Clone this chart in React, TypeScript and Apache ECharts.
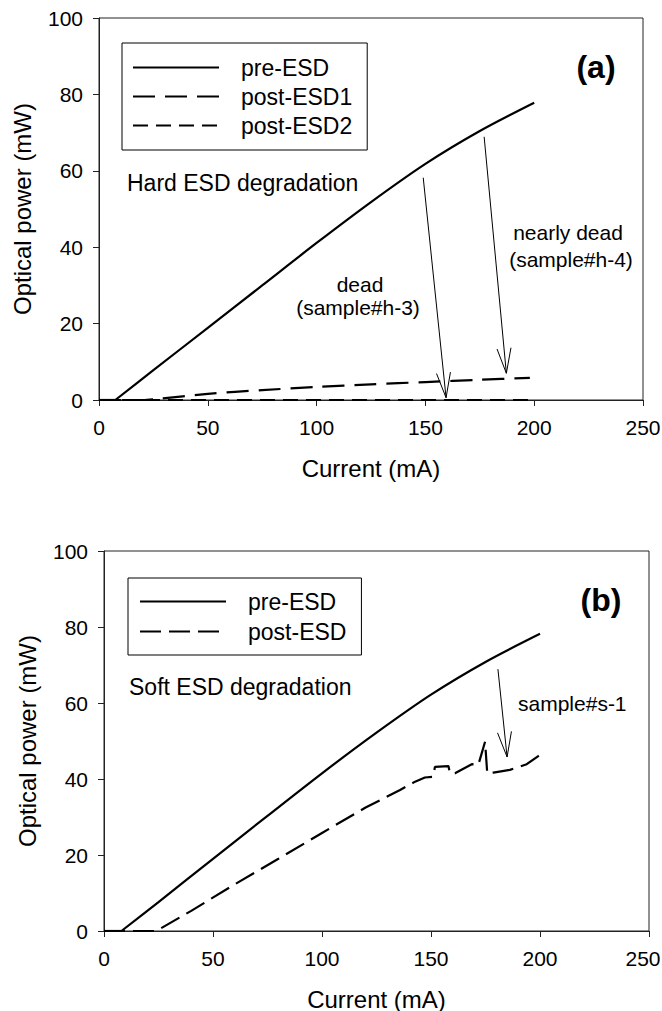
import React, { useEffect, useRef } from "react";
import * as echarts from "echarts";

const FONT = '"Liberation Sans", Arial, Helvetica, sans-serif';

// ---- data (Current in mA, Optical power in mW) ----
const LEGEND_A = ["pre-ESD", "post-ESD1", "post-ESD2"];
const LEGEND_B = ["pre-ESD", "post-ESD"];

// pre-ESD below threshold (flat) and above threshold (lasing)
const PRE_ESD_A_BELOW: [number, number][] = [[0, 0], [7.5, 0]];
const PRE_ESD_A: [number, number][] = [
  [7.5, 0], [25, 7.8], [50, 18.9], [75, 30], [100, 41.1],
  [125, 51.8], [150, 61.8], [175, 70.4], [200, 77.8],
];
const POST_ESD1_A: [number, number][] = [
  [0, 0], [20, 0], [27, 0.3], [50, 1.6], [75, 2.6], [100, 3.4],
  [125, 4.1], [150, 4.7], [175, 5.3], [198, 5.8],
];
const POST_ESD2_A: [number, number][] = [
  [0, 0], [200, 0],
];

const PRE_ESD_B_BELOW: [number, number][] = [[0, 0], [8, 0]];
const PRE_ESD_B: [number, number][] = [
  [8, 0], [25, 7.6], [50, 19], [75, 30.3], [100, 41.5],
  [125, 52.2], [150, 62.2], [175, 70.8], [200, 78.2],
];
const POST_ESD_B: [number, number][] = [
  [0, 0], [24, 0], [40, 5.3], [60, 12.3], [80, 19], [100, 25.8], [120, 32.5],
  [135.8, 37.1], [142.7, 39.3], [147.2, 40.4], [151, 40.6], [151.8, 43.2],
  [158, 43.4], [158.7, 41.5], [161, 41.5], [168.7, 43.9], [171.7, 43.7],
  [174.8, 49.8], [175.8, 41.5], [178.6, 41.7], [186.2, 42.4], [193.9, 43.9],
  [199.2, 46.0], [200, 46.3],
];

// annotation arrows: [fromX, fromY, toX, toY] in data units
const ARROWS_A: number[][] = [
  [149, 58.2, 159.5, 0.6],
  [177, 68.9, 187.2, 7.0],
];
const ARROWS_B: number[][] = [
  [180.7, 68.9, 184.9, 45.8],
];

const X_MIN = 0, X_MAX = 250, X_STEP = 50;
const Y_MIN = 0, Y_MAX = 100, Y_STEP = 20;

const renderArrow = (params: any, api: any) => {
  const p0 = api.coord([api.value(0), api.value(1)]);
  const p1 = api.coord([api.value(2), api.value(3)]);
  const dx = p1[0] - p0[0];
  const dy = p1[1] - p0[1];
  const len = Math.hypot(dx, dy) || 1;
  const ux = dx / len, uy = dy / len;
  const hl = 25, hw = 7;
  const bx = p1[0] - ux * hl, by = p1[1] - uy * hl;
  const left = [bx - uy * hw, by + ux * hw];
  const right = [bx + uy * hw, by - ux * hw];
  return {
    type: "group",
    children: [
      { type: "line", shape: { x1: p0[0], y1: p0[1], x2: p1[0], y2: p1[1] }, style: { stroke: "#000", lineWidth: 1 } },
      { type: "polyline", shape: { points: [left, p1, right] }, style: { stroke: "#000", fill: "none", lineWidth: 1 } },
    ],
  };
};

const axisX = (i: number, shiftMax: boolean) => ({
  type: "value",
  gridIndex: i,
  min: X_MIN, max: X_MAX, interval: X_STEP,
  name: "Current (mA)",
  nameLocation: "middle",
  nameGap: 56,
  nameTextStyle: { fontSize: 24, color: "#000", fontFamily: FONT },
  axisLine: { show: true, onZero: false, lineStyle: { color: "#222", width: 1 } },
  axisTick: { show: true, inside: false, length: 6, lineStyle: { color: "#222" } },
  axisLabel: {
    fontSize: 21, color: "#000", margin: 17, fontFamily: FONT, showMaxLabel: true,
    formatter: (v: number) => (shiftMax && v === X_MAX ? `{m|${v}}` : `${v}`),
    rich: { m: { fontSize: 21, color: "#000", fontFamily: FONT, padding: [0, 12, 0, 0] } },
  },
  splitLine: { show: false },
});

const axisY = (i: number) => ({
  type: "value",
  gridIndex: i,
  min: Y_MIN, max: Y_MAX, interval: Y_STEP,
  name: "Optical power (mW)",
  nameLocation: "middle",
  nameGap: 65,
  nameTextStyle: { fontSize: 24, color: "#000", fontFamily: FONT },
  axisLine: { show: true, onZero: false, lineStyle: { color: "#222", width: 1 } },
  axisTick: { show: true, inside: false, length: 6, lineStyle: { color: "#222" } },
  axisLabel: { fontSize: 21, color: "#000", margin: 16, fontFamily: FONT },
  splitLine: { show: false },
});

const legendCfg = (data: string[], left: number, top: number, gap: number, pad: number[]) => ({
  orient: "vertical",
  left, top,
  data,
  itemWidth: 86,
  itemHeight: 23,
  itemGap: gap,
  padding: pad,
  borderColor: "#000",
  borderWidth: 1,
  backgroundColor: "#fff",
  selectedMode: false,
  itemStyle: { opacity: 0 },
  textStyle: { fontSize: 23, lineHeight: 23, color: "#000", fontFamily: FONT, padding: [0, 0, 0, 17] },
});

const text = (t: string, x: number, y: number, size: number, align: string, bold = false) => ({
  type: "text",
  x, y,
  silent: true,
  style: {
    text: t,
    fill: "#000",
    fontSize: size,
    fontFamily: FONT,
    fontWeight: bold ? "bold" : "normal",
    textAlign: align,
    align,
    textVerticalAlign: "middle",
    verticalAlign: "middle",
  },
});

const line = (name: string | undefined, data: [number, number][], gi: number, dash: any, width: number, smooth: any) => ({
  name,
  type: "line",
  xAxisIndex: gi,
  yAxisIndex: gi,
  data,
  symbol: "none",
  smooth,
  lineStyle: { color: "#000", width, type: dash, cap: "butt" },
  itemStyle: { color: "#000" },
  z: 3,
});

export default function App() {
  const ref = useRef<HTMLDivElement>(null);
  useEffect(() => {
    if (!ref.current) return;
    const chart = echarts.init(ref.current, undefined, { renderer: "svg" });
    chart.setOption({
      animation: false,
      backgroundColor: "#fff",
      textStyle: { fontFamily: FONT },
      grid: [
        { left: 99, top: 18, width: 544, height: 382, show: true, borderColor: "#222", borderWidth: 1, containLabel: false, outerBoundsMode: "none" },
        { left: 104, top: 551, width: 545, height: 380, show: true, borderColor: "#222", borderWidth: 1, containLabel: false, outerBoundsMode: "none" },
      ],
      xAxis: [axisX(0, false), axisX(1, true)],
      yAxis: [axisY(0), axisY(1)],
      legend: [
        legendCfg(LEGEND_A, 122, 43, 6, [13, 15, 13, 10]),
        legendCfg(LEGEND_B, 128, 578, 7, [12, 15, 12, 11]),
      ],
      series: [
        line(LEGEND_A[0], PRE_ESD_A, 0, "solid", 2.2, 0.3),
        line(undefined, PRE_ESD_A_BELOW, 0, "solid", 2.2, false),
        line(LEGEND_A[1], POST_ESD1_A, 0, [22, 10], 2.2, 0.3),
        line(LEGEND_A[2], POST_ESD2_A, 0, [15, 8], 2.2, false),
        line(LEGEND_B[0], PRE_ESD_B, 1, "solid", 2.2, 0.3),
        line(undefined, PRE_ESD_B_BELOW, 1, "solid", 2.2, false),
        line(LEGEND_B[1], POST_ESD_B, 1, [21, 8], 2.2, false),
        {
          type: "custom", xAxisIndex: 0, yAxisIndex: 0, data: ARROWS_A,
          renderItem: renderArrow, encode: { x: [0, 2], y: [1, 3] }, clip: false, silent: true, z: 5,
        },
        {
          type: "custom", xAxisIndex: 1, yAxisIndex: 1, data: ARROWS_B,
          renderItem: renderArrow, encode: { x: [0, 2], y: [1, 3] }, clip: false, silent: true, z: 5,
        },
      ],
      graphic: [
        text("(a)", 596, 67, 32, "center", true),
        text("Hard ESD degradation", 127, 183, 23, "left"),
        text("nearly dead", 568, 232, 21, "center"),
        text("(sample#h-4)", 571, 259, 21, "center"),
        text("dead", 360, 284, 21, "center"),
        text("(sample#h-3)", 358, 307, 21, "center"),
        text("(b)", 601, 600, 32, "center", true),
        text("Soft ESD degradation", 129, 687, 23, "left"),
        text("sample#s-1", 518, 703, 21, "left"),
      ],
    });
    return () => chart.dispose();
  }, []);
  return <div ref={ref} style={{ position: "absolute", left: 0, top: 0, width: 662, height: 1011 }} />;
}
